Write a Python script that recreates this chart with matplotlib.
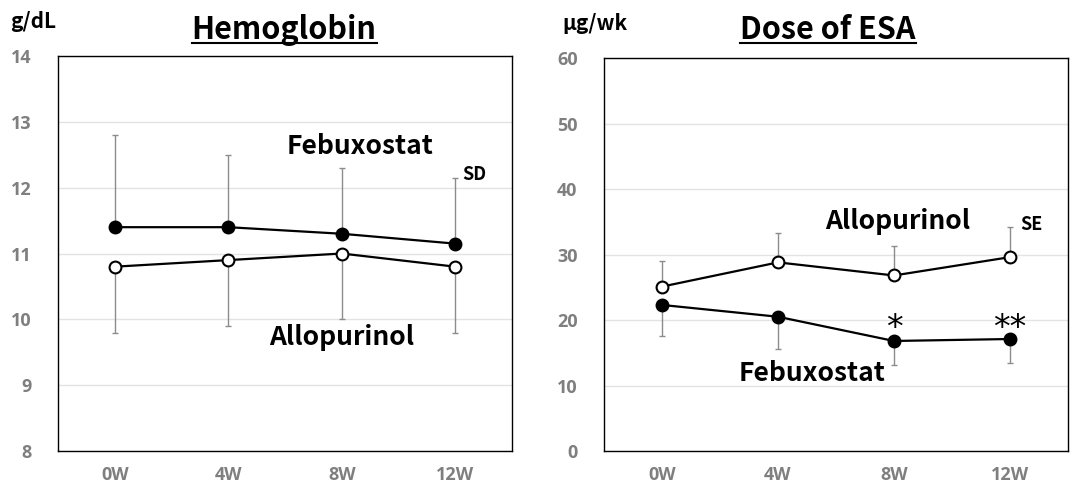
import matplotlib
matplotlib.use("Agg")
import matplotlib.pyplot as plt
from matplotlib.lines import Line2D

plt.rcParams['font.family'] = ['Noto Sans CJK JP', 'DejaVu Sans']
plt.rcParams['font.weight'] = 'bold'

weeks = ["0W", "4W", "8W", "12W"]

# Hemoglobin (g/dL), SD
hb_febu = [11.4, 11.4, 11.3, 11.15]
hb_febu_sd = [1.4, 1.1, 1.0, 1.0]
hb_allo = [10.8, 10.9, 11.0, 10.8]
hb_allo_sd = [1.0, 1.0, 1.0, 1.0]

# Dose of ESA (ug/wk), SE
esa_allo = [25.1, 28.8, 26.8, 29.6]
esa_allo_se = [3.9, 4.5, 4.5, 4.6]
esa_febu = [22.3, 20.5, 16.8, 17.1]
esa_febu_se = [4.7, 4.9, 3.6, 3.7]

GRAY = "#7f7f7f"
ERR = "#8c8c8c"

fig = plt.figure(figsize=(10.73, 4.88), dpi=100)
ax1 = fig.add_axes([0.0541, 0.0758, 0.4231, 0.8094])
ax2 = fig.add_axes([0.5629, 0.0758, 0.4324, 0.8053])

x = list(range(len(weeks)))


def series(ax, y, err, upper, filled):
    zeros = [0] * len(err)
    yerr = [zeros, err] if upper else [err, zeros]
    ax.errorbar(x, y, yerr=yerr, fmt="none", ecolor=ERR, elinewidth=1,
                capsize=2.5, capthick=1, zorder=2)
    ax.plot(x, y, color="black", lw=1.6, marker="o", ms=8.5,
            mfc="black" if filled else "white", mec="black", mew=1.5, zorder=3)


def style(ax, ylim, step):
    ax.set_xlim(-0.5, len(weeks) - 0.5)
    ax.set_ylim(*ylim)
    yt = list(range(ylim[0], ylim[1] + 1, step))
    tick_font = dict(fontsize=13, fontweight="bold", color=GRAY,
                     family=["Open Sans", "DejaVu Sans"])
    ax.set_yticks(yt)
    ax.set_yticklabels([str(v) for v in yt], **tick_font)
    ax.set_xticks(x)
    ax.set_xticklabels(weeks, **tick_font)
    ax.tick_params(length=0)
    ax.tick_params(axis="y", pad=19)
    ax.tick_params(axis="x", pad=11)
    ax.grid(axis="y", color="#e3e3e3", lw=1)
    ax.set_axisbelow(True)
    for s in ax.spines.values():
        s.set_color("black")
        s.set_linewidth(1)


series(ax1, hb_febu, hb_febu_sd, True, True)
series(ax1, hb_allo, hb_allo_sd, False, False)
style(ax1, (8, 14), 1)
ax1.text(2.16, 12.63, "Febuxostat", fontsize=19, ha="center", va="center")
ax1.text(2.0, 9.73, "Allopurinol", fontsize=19, ha="center", va="center")
ax1.text(3.06, 12.2, "SD", fontsize=13, ha="left", va="center")

series(ax2, esa_allo, esa_allo_se, True, False)
series(ax2, esa_febu, esa_febu_se, False, True)
style(ax2, (0, 60), 10)
ax2.text(2.03, 35.1, "Allopurinol", fontsize=19, ha="center", va="center")
ax2.text(1.29, 11.9, "Febuxostat", fontsize=19, ha="center", va="center")
ax2.text(3.09, 34.6, "SE", fontsize=13, ha="left", va="center")
ax2.text(2.0, 17.2, "*", fontsize=24, ha="center", va="baseline",
         weight="normal", family="DejaVu Sans")
ax2.text(3.0, 17.2, "**", fontsize=24, ha="center", va="baseline",
         weight="normal", family="DejaVu Sans")

fig.text(0.009, 0.955, "g/dL", fontsize=15, ha="left", va="center")
fig.text(0.524, 0.951, "µg/wk", fontsize=15, ha="left", va="center")

titles = [
    fig.text(0.2647, 0.920, "Hemoglobin", fontsize=22, ha="center", va="baseline", weight="bold"),
    fig.text(0.7717, 0.920, "Dose of ESA", fontsize=22, ha="center", va="baseline", weight="bold"),
]

fig.canvas.draw()
r = fig.canvas.get_renderer()
W, H = fig.bbox.width, fig.bbox.height
for t in titles:
    bb = t.get_window_extent(r)
    yline = (H - 43) / H
    fig.add_artist(Line2D([bb.x0 / W, bb.x1 / W], [yline, yline],
                          color="black", lw=1.5, transform=fig.transFigure))

fig.savefig("out.png", dpi=100)
